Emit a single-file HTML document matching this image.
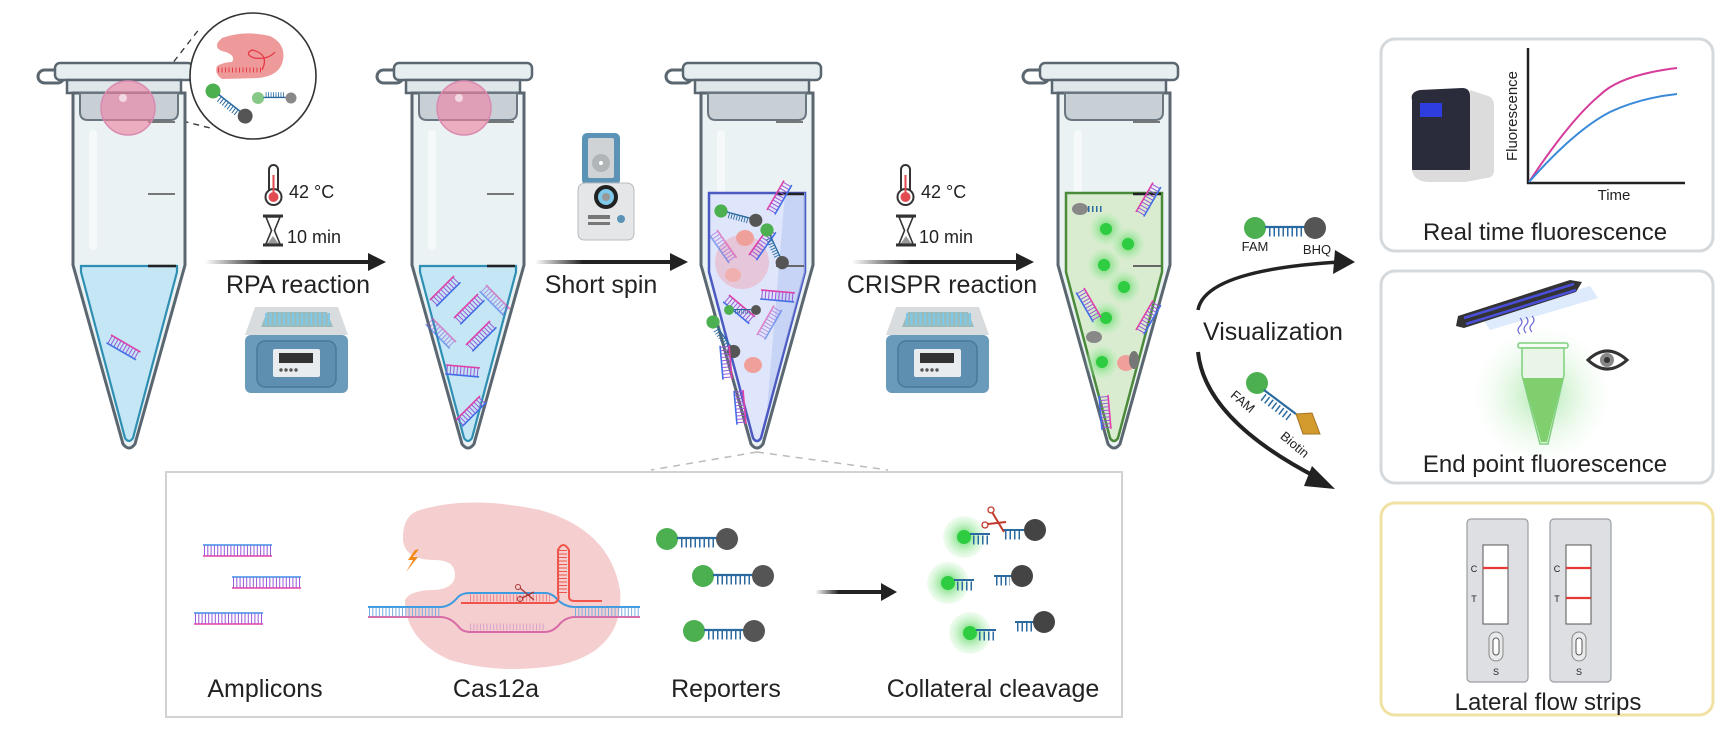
<!DOCTYPE html>
<html><head><meta charset="utf-8"><style>
html,body{margin:0;padding:0;background:#fff;}
svg{display:block;}
text{font-family:"Liberation Sans",sans-serif;fill:#222;}
</style></head><body>
<svg width="1731" height="741" viewBox="0 0 1731 741" xmlns="http://www.w3.org/2000/svg">
<defs>
  <g id="lad">
    <line x1="0" y1="0" x2="34" y2="0" stroke="#e040a8" stroke-width="1.6"/>
    <line x1="0" y1="9" x2="34" y2="9" stroke="#3f6fe8" stroke-width="1.6"/>
    <line x1="1" y1="4.5" x2="34" y2="4.5" stroke="#9a58d8" stroke-width="8" stroke-dasharray="1 2.4"/>
  </g>
  <g id="rep">
    <circle cx="0" cy="0" r="11" fill="#4caf50"/>
    <line x1="10" y1="-1" x2="50" y2="-1" stroke="#2a6aa0" stroke-width="2.2"/>
    <line x1="14" y1="4" x2="48" y2="4" stroke="#2a6aa0" stroke-width="9" stroke-dasharray="1.5 3"/>
    <circle cx="60" cy="0" r="11" fill="#555"/>
  </g>
  <g id="tube">
    <rect x="-91" y="70" width="26" height="13" rx="6.5" fill="none" stroke="#5b6770" stroke-width="3"/>
    <rect x="-74" y="63" width="138" height="17" rx="5" fill="#e6eef0" stroke="#5b6770" stroke-width="2.5"/>
    <rect x="-62" y="80" width="114" height="13" fill="#dfe7ea" stroke="#5b6770" stroke-width="2.5"/>
    <path d="M-56 93 L-56 265 L-6 444 Q0 452 6 444 L56 265 L56 93 Z" fill="#eaf2f3" stroke="#5b6770" stroke-width="3"/>
    <path d="M-49 93 L-49 112 Q-49 120 -41 120 L41 120 Q49 120 49 112 L49 93 Z" fill="#c8d0d6" stroke="#6b7780" stroke-width="2"/>
    <rect x="-40" y="130" width="8" height="120" rx="4" fill="#fff" opacity="0.5"/>
    <line x1="19" y1="122" x2="46" y2="122" stroke="#777" stroke-width="2"/>
    <line x1="19" y1="194" x2="46" y2="194" stroke="#777" stroke-width="2"/>
  </g>
  <g id="heater">
    <path d="M10 0 L93 0 L103 28 L0 28 Z" fill="#d8dcde"/>
    <path d="M22 5 L82 5 L88 20 L16 20 Z" fill="#9bb"/>
    <line x1="20" y1="12" x2="86" y2="12" stroke="#7ec8ea" stroke-width="12" stroke-dasharray="2 2.5"/>
    <rect x="0" y="28" width="103" height="58" rx="6" fill="#6b9bbb"/>
    <rect x="12" y="34" width="79" height="46" rx="8" fill="#5f8fb0" stroke="#4b7899" stroke-width="1.5"/>
    <rect x="28" y="42" width="47" height="28" rx="2" fill="#e9ecee"/>
    <rect x="34" y="46" width="34" height="10" fill="#333"/>
    <circle cx="36" cy="63" r="1.7" fill="#555"/><circle cx="41" cy="63" r="1.7" fill="#555"/><circle cx="46" cy="63" r="1.7" fill="#555"/><circle cx="51" cy="63" r="1.7" fill="#555"/>
  </g>
  <g id="therm">
    <rect x="-4" y="0" width="9" height="30" rx="4.5" fill="#fff" stroke="#333" stroke-width="2"/>
    <circle cx="0.5" cy="32" r="8" fill="#fff" stroke="#333" stroke-width="2"/>
    <circle cx="0.5" cy="32" r="5" fill="#e24a52"/>
    <line x1="0.5" y1="10" x2="0.5" y2="30" stroke="#e24a52" stroke-width="2"/>
  </g>
  <g id="hour">
    <line x1="-10" y1="0" x2="10" y2="0" stroke="#333" stroke-width="3"/>
    <line x1="-10" y1="29" x2="10" y2="29" stroke="#333" stroke-width="3"/>
    <path d="M-7 1 L7 1 L1.5 14.5 L7 28 L-7 28 L-1.5 14.5 Z" fill="#fff" stroke="#333" stroke-width="1.6"/>
    <path d="M-5 27 L5 27 L0 20 Z" fill="#999"/>
  </g>
  <linearGradient id="ag" x1="0" x2="1" y1="0" y2="0"><stop offset="0" stop-color="#222" stop-opacity="0"/><stop offset="0.35" stop-color="#222"/></linearGradient>
  <radialGradient id="glow"><stop offset="0" stop-color="#3dd34a" stop-opacity="0.9"/><stop offset="0.5" stop-color="#7be07f" stop-opacity="0.55"/><stop offset="1" stop-color="#b5f0b5" stop-opacity="0.2"/></radialGradient>
  <radialGradient id="bigglow"><stop offset="0" stop-color="#6cd66c" stop-opacity="0.55"/><stop offset="1" stop-color="#d9f5d9" stop-opacity="0"/></radialGradient>
</defs>

<!-- dashed lines zoom -->
<line x1="140" y1="105" x2="200" y2="28" stroke="#333" stroke-width="1.3" stroke-dasharray="6 5"/>
<line x1="140" y1="110" x2="210" y2="128" stroke="#333" stroke-width="1.3" stroke-dasharray="6 5"/>

<!-- TUBE 1 -->
<g transform="translate(129,0)">
  <use href="#tube"/>
  <path d="M-48 266 L48 266 L48 272 L4 438 Q0 444 -4 438 L-48 272 Z" fill="#c4e6f5" stroke="#2e8fb3" stroke-width="2.2"/>
  <line x1="19" y1="266" x2="47" y2="266" stroke="#222" stroke-width="2.5"/>
  <use href="#lad" transform="translate(-18,335) rotate(30)"/>
  <circle cx="-1" cy="108" r="27" fill="#ee7fa0" fill-opacity="0.6" stroke="#d98ab0" stroke-width="1.5"/>
  <circle cx="-6" cy="98" r="4" fill="#fff" opacity="0.6"/>
</g>
<!-- magnifier -->
<circle cx="253" cy="76" r="63" fill="#fff" stroke="#333" stroke-width="1.6"/>
<path d="M222 38 Q245 30 270 36 Q286 44 283 60 Q280 76 258 78 L222 79 Q214 74 217 66 Q224 62 232 62 Q236 56 226 52 Q214 50 218 42 Z" fill="#ef9a9a"/>
<line x1="218" y1="70" x2="263" y2="70" stroke="#e53945" stroke-width="5" stroke-dasharray="1 2.5"/>
<path d="M262 70 Q270 54 252 50 Q244 54 254 58 Q268 60 275 52" fill="none" stroke="#e53945" stroke-width="1.3"/>
<g transform="translate(213,91) rotate(38)"><use href="#rep" transform="scale(0.68)"/></g>
<g transform="translate(258,98) scale(0.55)"><circle r="11" fill="#86c886"/><line x1="10" y1="-1" x2="50" y2="-1" stroke="#2a6aa0" stroke-width="2.5"/><line x1="14" y1="-6" x2="48" y2="-6" stroke="#2a6aa0" stroke-width="9" stroke-dasharray="1.5 3"/><circle cx="60" r="10" fill="#888"/></g>

<!-- step 1 -->
<use href="#therm" transform="translate(273,165)"/>
<text x="289" y="198" font-size="18">42 °C</text>
<use href="#hour" transform="translate(273,216)"/>
<text x="287" y="243" font-size="18">10 min</text>
<rect x="205" y="260" width="167" height="4" fill="url(#ag)"/>
<path d="M368 253 L386 262 L368 271 Z" fill="#222"/>
<text x="298" y="293" font-size="25" text-anchor="middle">RPA reaction</text>
<use href="#heater" transform="translate(245,307)"/>

<!-- TUBE 2 -->
<g transform="translate(468,0)">
  <use href="#tube"/>
  <path d="M-48 266 L48 266 L48 272 L4 438 Q0 444 -4 438 L-48 272 Z" fill="#c4e6f5" stroke="#2e8fb3" stroke-width="2.2"/>
  <line x1="19" y1="266" x2="47" y2="266" stroke="#222" stroke-width="2.5"/>
  <use href="#lad" transform="translate(-38,300) rotate(-45)"/>
  <use href="#lad" transform="translate(-14,318) rotate(-45)"/>
  <use href="#lad" transform="translate(18,285) rotate(45)" opacity="0.6"/>
  <use href="#lad" transform="translate(-36,318) rotate(45)" opacity="0.6"/>
  <use href="#lad" transform="translate(-2,345) rotate(-45)"/>
  <use href="#lad" transform="translate(-22,365) rotate(5)"/>
  <use href="#lad" transform="translate(-12,420) rotate(-45)"/>
  <circle cx="-4" cy="108" r="27" fill="#ee7fa0" fill-opacity="0.6" stroke="#d98ab0" stroke-width="1.5"/>
  <circle cx="-9" cy="98" r="4" fill="#fff" opacity="0.6"/>
</g>

<!-- centrifuge -->
<g transform="translate(578,133)">
  <rect x="4" y="0" width="38" height="52" rx="5" fill="#5b93b6"/>
  <rect x="10" y="5" width="26" height="40" rx="2" fill="#cfd3d6"/>
  <circle cx="23" cy="30" r="9" fill="#b0b5b8"/><circle cx="23" cy="30" r="2" fill="#fff"/>
  <path d="M0 58 Q0 50 8 50 L48 50 Q56 50 56 58 L56 100 Q56 107 49 107 L7 107 Q0 107 0 100 Z" fill="#e4e6e8" stroke="#b9bdc0"/>
  <circle cx="28" cy="64" r="12" fill="#222"/><circle cx="28" cy="64" r="8" fill="#7ec8ea"/><circle cx="28" cy="64" r="4" fill="#999"/>
  <rect x="10" y="82" width="22" height="4" fill="#777"/><rect x="10" y="89" width="22" height="3" fill="#777"/>
  <circle cx="43" cy="86" r="4" fill="#5b93b6"/>
</g>
<rect x="535" y="260" width="137" height="4" fill="url(#ag)"/>
<path d="M670 253 L688 262 L670 271 Z" fill="#222"/>
<text x="601" y="293" font-size="25" text-anchor="middle">Short spin</text>

<!-- TUBE 3 -->
<g transform="translate(757,0)">
  <use href="#tube"/>
  <path d="M-48 193 L48 193 L48 272 L4 438 Q0 444 -4 438 L-48 272 Z" fill="#dfe6fb" stroke="#4b59c2" stroke-width="2.5"/>
  <path d="M28 193 L48 193 L48 272 L10 410 Z" fill="#b8c8f2" opacity="0.6"/>
  <line x1="19" y1="194" x2="47" y2="194" stroke="#222" stroke-width="2.5"/>
  <line x1="19" y1="266" x2="47" y2="266" stroke="#666" stroke-width="2"/>
  <circle cx="-15" cy="262" r="27" fill="#efa0b0" fill-opacity="0.45"/>
  <use href="#rep" transform="translate(-36,211) rotate(15) scale(0.6)"/>
  <use href="#lad" transform="translate(10,210) rotate(-60)"/>
  <use href="#lad" transform="translate(-40,230) rotate(55)" opacity="0.6"/>
  <use href="#lad" transform="translate(-8,255) rotate(-55)"/>
  <use href="#lad" transform="translate(-28,295) rotate(40)"/>
  <use href="#lad" transform="translate(4,290) rotate(5)"/>
  <use href="#rep" transform="translate(-28,310) scale(0.45)"/>
  <use href="#lad" transform="translate(0,335) rotate(-60)" opacity="0.6"/>
  <use href="#rep" transform="translate(-44,322) rotate(55) scale(0.6)"/>
  <use href="#lad" transform="translate(-28,345) rotate(85)"/>
  <use href="#lad" transform="translate(-14,390) rotate(85)"/>
  <use href="#rep" transform="translate(10,230) rotate(65) scale(0.6)"/>
  <ellipse cx="-12" cy="238" rx="9" ry="8" fill="#f0a09a"/>
  <ellipse cx="-4" cy="365" rx="9" ry="8" fill="#f0a09a"/>
  <ellipse cx="-24" cy="275" rx="8" ry="7" fill="#f0b0b0"/>
</g>
<line x1="757" y1="452" x2="651" y2="470" stroke="#bbb" stroke-width="1.5" stroke-dasharray="7 6"/>
<line x1="757" y1="452" x2="888" y2="470" stroke="#bbb" stroke-width="1.5" stroke-dasharray="7 6"/>

<!-- step CRISPR -->
<use href="#therm" transform="translate(905,165)"/>
<text x="921" y="198" font-size="18">42 °C</text>
<use href="#hour" transform="translate(906,216)"/>
<text x="919" y="243" font-size="18">10 min</text>
<rect x="852" y="260" width="168" height="4" fill="url(#ag)"/>
<path d="M1016 253 L1034 262 L1016 271 Z" fill="#222"/>
<text x="942" y="293" font-size="25" text-anchor="middle">CRISPR reaction</text>
<use href="#heater" transform="translate(886,307)"/>

<!-- TUBE 4 -->
<g transform="translate(1114,0)">
  <use href="#tube"/>
  <path d="M-48 193 L48 193 L48 272 L4 438 Q0 444 -4 438 L-48 272 Z" fill="#d9ecd0" stroke="#4a8a3a" stroke-width="2.5"/>
  <line x1="19" y1="194" x2="47" y2="194" stroke="#222" stroke-width="2.5"/>
  <line x1="19" y1="266" x2="47" y2="266" stroke="#666" stroke-width="2"/>
  <circle cx="-8" cy="229" r="16" fill="url(#glow)"/><circle cx="-8" cy="229" r="6" fill="#2ecc40"/>
  <circle cx="14" cy="244" r="16" fill="url(#glow)"/><circle cx="14" cy="244" r="6" fill="#2ecc40"/>
  <circle cx="-10" cy="265" r="16" fill="url(#glow)"/><circle cx="-10" cy="265" r="6" fill="#2ecc40"/>
  <circle cx="10" cy="287" r="16" fill="url(#glow)"/><circle cx="10" cy="287" r="6" fill="#2ecc40"/>
  <circle cx="-8" cy="318" r="16" fill="url(#glow)"/><circle cx="-8" cy="318" r="6" fill="#2ecc40"/>
  <circle cx="-12" cy="362" r="16" fill="url(#glow)"/><circle cx="-12" cy="362" r="6" fill="#2ecc40"/>
  <ellipse cx="-34" cy="209" rx="8" ry="6" fill="#888"/>
  <line x1="-26" y1="209" x2="-12" y2="209" stroke="#2a6aa0" stroke-width="6" stroke-dasharray="1.5 2.5"/>
  <use href="#lad" transform="translate(22,212) rotate(-60)"/>
  <use href="#lad" transform="translate(-30,288) rotate(60)"/>
  <use href="#lad" transform="translate(22,330) rotate(-60)"/>
  <ellipse cx="-20" cy="337" rx="8" ry="6" fill="#888"/>
  <ellipse cx="12" cy="363" rx="9" ry="8" fill="#f0a09a"/>
  <ellipse cx="20" cy="360" rx="5" ry="9" fill="#777"/>
  <use href="#lad" transform="translate(-6,395) rotate(85)"/>
</g>

<!-- Visualization -->
<path d="M1198 310 Q1205 270 1340 262" fill="none" stroke="#222" stroke-width="3.5"/>
<path d="M1335 250 L1355 262 L1333 274 Z" fill="#222"/>
<path d="M1198 352 Q1205 420 1318 478" fill="none" stroke="#222" stroke-width="4"/>
<path d="M1312 466 L1335 489 L1304 486 Z" fill="#222"/>
<text x="1203" y="340" font-size="25">Visualization</text>
<use href="#rep" transform="translate(1255,228)"/>
<text x="1255" y="251" font-size="13" text-anchor="middle">FAM</text>
<text x="1317" y="254" font-size="13" text-anchor="middle">BHQ</text>
<circle cx="1257" cy="383" r="11" fill="#4caf50"/>
<line x1="1264" y1="390" x2="1296" y2="414" stroke="#2a6aa0" stroke-width="2.2"/>
<line x1="1263" y1="397" x2="1290" y2="418" stroke="#2a6aa0" stroke-width="8" stroke-dasharray="1.5 3"/>
<path d="M1296 414 L1312 413 L1320 434 L1303 434 Z" fill="#d39a2e" stroke="#a57420"/>
<text x="1240" y="405" font-size="13" transform="rotate(40 1240 405)" text-anchor="middle">FAM</text>
<text x="1292" y="448" font-size="13" transform="rotate(40 1292 448)" text-anchor="middle">Biotin</text>

<!-- Right box 1 -->
<rect x="1381" y="39" width="332" height="212" rx="14" fill="#fff" stroke="#d5d9dc" stroke-width="3"/>
<path d="M1412 100 Q1410 92 1420 90 L1462 88 Q1470 88 1470 96 L1470 168 Q1470 176 1462 176 L1420 176 Q1412 176 1412 168 Z" fill="#2a2b3b"/>
<path d="M1470 90 L1488 96 Q1494 98 1494 106 L1494 170 Q1494 178 1486 178 L1466 182 L1430 182 Q1414 182 1412 170 L1470 170 Z" fill="#dcdcdc"/>
<rect x="1420" y="103" width="22" height="14" fill="#2d3de0"/>
<line x1="1528" y1="48" x2="1528" y2="184" stroke="#222" stroke-width="2.5"/>
<line x1="1527" y1="183" x2="1685" y2="183" stroke="#222" stroke-width="2.5"/>
<path d="M1529 182 Q1570 120 1600 95 Q1620 75 1677 68" fill="none" stroke="#d63c9a" stroke-width="2"/>
<path d="M1529 182 Q1575 130 1610 112 Q1640 98 1677 94" fill="none" stroke="#3a8ad8" stroke-width="2"/>
<text x="1517" y="116" font-size="15" transform="rotate(-90 1517 116)" text-anchor="middle">Fluorescence</text>
<text x="1614" y="200" font-size="15" text-anchor="middle">Time</text>
<text x="1545" y="240" font-size="24" text-anchor="middle">Real time fluorescence</text>

<!-- Right box 2 -->
<rect x="1381" y="271" width="332" height="212" rx="14" fill="#fff" stroke="#d5d9dc" stroke-width="3"/>
<circle cx="1542" cy="395" r="70" fill="url(#bigglow)"/>
<path d="M1482 318 L1590 286 L1598 298 L1490 330 Z" fill="#d4e6fb" opacity="0.8"/>
<path d="M1458 316 L1570 280 L1582 282 L1576 292 L1464 328 L1456 326 Z" fill="#333"/>
<line x1="1464" y1="318" x2="1574" y2="284" stroke="#4b4fd8" stroke-width="2.5"/>
<line x1="1466" y1="324" x2="1576" y2="290" stroke="#4b4fd8" stroke-width="2.5"/>
<path d="M1520 318 q4 4 0 8 q-4 4 0 8 M1526 317 q4 4 0 8 q-4 4 0 8 M1532 316 q4 4 0 8 q-4 4 0 8" fill="none" stroke="#6a6ad8" stroke-width="1.2"/>
<rect x="1518" y="343" width="50" height="5" rx="2" fill="none" stroke="#7fd07f" stroke-width="1.5"/>
<path d="M1522 348 L1522 375 L1540 444 L1548 444 L1564 375 L1564 348 Z" fill="#e9f5e6" stroke="#7fd07f" stroke-width="1.5"/>
<path d="M1523 378 L1563 378 L1547 442 L1541 442 Z" fill="#7fcf6f"/>
<path d="M1588 360 Q1607 342 1627 360 Q1607 378 1588 360 Z" fill="#fff" stroke="#333" stroke-width="3"/>
<circle cx="1607" cy="360" r="7" fill="#888"/><circle cx="1607" cy="360" r="3" fill="#333"/>
<text x="1545" y="472" font-size="24" text-anchor="middle">End point fluorescence</text>

<!-- Right box 3 -->
<rect x="1381" y="503" width="332" height="212" rx="14" fill="#fff" stroke="#f1e2a4" stroke-width="3"/>
<g>
  <rect x="1467" y="519" width="61" height="163" rx="4" fill="#dedfe2" stroke="#9a9ea2" stroke-width="1.2"/>
  <rect x="1483" y="545" width="25" height="79" fill="#fff" stroke="#555" stroke-width="1"/>
  <line x1="1483" y1="568" x2="1508" y2="568" stroke="#e53935" stroke-width="2.2"/>
  <text x="1474" y="572" font-size="9" text-anchor="middle">C</text>
  <text x="1474" y="602" font-size="9" text-anchor="middle">T</text>
  <rect x="1489" y="632" width="14" height="29" rx="7" fill="#e8e9ea" stroke="#888"/>
  <rect x="1493" y="638" width="6" height="17" rx="3" fill="#fff" stroke="#555"/>
  <text x="1496" y="675" font-size="9" text-anchor="middle">S</text>
</g>
<g transform="translate(83,0)">
  <rect x="1467" y="519" width="61" height="163" rx="4" fill="#dedfe2" stroke="#9a9ea2" stroke-width="1.2"/>
  <rect x="1483" y="545" width="25" height="79" fill="#fff" stroke="#555" stroke-width="1"/>
  <line x1="1483" y1="568" x2="1508" y2="568" stroke="#e53935" stroke-width="2.2"/>
  <line x1="1483" y1="598" x2="1508" y2="598" stroke="#e53935" stroke-width="2.2"/>
  <text x="1474" y="572" font-size="9" text-anchor="middle">C</text>
  <text x="1474" y="602" font-size="9" text-anchor="middle">T</text>
  <rect x="1489" y="632" width="14" height="29" rx="7" fill="#e8e9ea" stroke="#888"/>
  <rect x="1493" y="638" width="6" height="17" rx="3" fill="#fff" stroke="#555"/>
  <text x="1496" y="675" font-size="9" text-anchor="middle">S</text>
</g>
<text x="1548" y="710" font-size="24" text-anchor="middle">Lateral flow strips</text>

<!-- Bottom box -->
<rect x="166" y="472" width="956" height="245" fill="#fff" stroke="#d0d3d6" stroke-width="2"/>
<g>
  <line x1="203" y1="545" x2="272" y2="545" stroke="#3f8fe8" stroke-width="1.6"/>
  <line x1="203" y1="556" x2="272" y2="556" stroke="#e040a8" stroke-width="1.6"/>
  <line x1="204" y1="550.5" x2="272" y2="550.5" stroke="#9a58d8" stroke-width="10" stroke-dasharray="1 2.3"/>
  <line x1="232" y1="577" x2="301" y2="577" stroke="#3f8fe8" stroke-width="1.6"/>
  <line x1="232" y1="588" x2="301" y2="588" stroke="#e040a8" stroke-width="1.6"/>
  <line x1="233" y1="582.5" x2="301" y2="582.5" stroke="#9a58d8" stroke-width="10" stroke-dasharray="1 2.3"/>
  <line x1="194" y1="613" x2="263" y2="613" stroke="#3f8fe8" stroke-width="1.6"/>
  <line x1="194" y1="624" x2="263" y2="624" stroke="#e040a8" stroke-width="1.6"/>
  <line x1="195" y1="618.5" x2="263" y2="618.5" stroke="#9a58d8" stroke-width="10" stroke-dasharray="1 2.3"/>
</g>
<text x="265" y="697" font-size="25" text-anchor="middle">Amplicons</text>
<!-- Cas12a -->
<path d="M420 510 Q470 495 540 510 Q610 530 620 590 Q625 650 560 665 Q500 675 450 660 Q405 640 405 600 Q410 590 435 590 Q455 588 455 575 Q455 560 435 560 Q405 560 403 540 Q402 515 420 510 Z" fill="#f5cfcf"/>
<path d="M415 550 L408 560 L413 560 L406 572 L418 557 L413 557 L419 549 Z" fill="#f08a1c"/>
<path d="M368 607 L440 607 Q450 607 458 597 Q462 593 470 593 L545 593 Q552 593 558 600 Q565 607 575 607 L640 607" fill="none" stroke="#3f9be0" stroke-width="2"/>
<path d="M368 617 L440 617 Q450 617 458 626 Q462 632 470 632 L545 632 Q552 632 558 626 Q565 617 575 617 L640 617" fill="none" stroke="#d86aa8" stroke-width="2"/>
<line x1="369" y1="612" x2="440" y2="612" stroke="#7aaee0" stroke-width="9" stroke-dasharray="1 2.3"/>
<line x1="575" y1="612" x2="640" y2="612" stroke="#7aaee0" stroke-width="9" stroke-dasharray="1 2.3"/>
<line x1="470" y1="627" x2="545" y2="627" stroke="#d9a0c8" stroke-width="7" stroke-dasharray="1 2.3"/>
<line x1="461" y1="603" x2="554" y2="603" stroke="#f0534a" stroke-width="2"/>
<line x1="470" y1="598" x2="550" y2="598" stroke="#f08080" stroke-width="7" stroke-dasharray="1 2.3"/>
<path d="M554 603 Q560 601 558 594 L558 550 Q563 540 569 550 L569 597 Q569 601 575 601 L602 601" fill="none" stroke="#f0534a" stroke-width="2"/>
<line x1="563" y1="550" x2="563" y2="594" stroke="#f0534a" stroke-width="8" stroke-dasharray="1 2.5"/>
<path d="M520 588 L534 600 M522 598 L534 592" stroke="#a33" stroke-width="1.3"/>
<circle cx="518" cy="587" r="2.5" fill="none" stroke="#a33"/><circle cx="520" cy="599" r="2.5" fill="none" stroke="#a33"/>
<text x="496" y="697" font-size="25" text-anchor="middle">Cas12a</text>
<!-- Reporters -->
<use href="#rep" transform="translate(667,539)"/>
<use href="#rep" transform="translate(703,576)"/>
<use href="#rep" transform="translate(694,631)"/>
<text x="726" y="697" font-size="25" text-anchor="middle">Reporters</text>
<rect x="815" y="590" width="69" height="4" fill="url(#ag)"/>
<path d="M881 583 L897 592 L881 601 Z" fill="#222"/>
<!-- Collateral -->
<circle cx="964" cy="537" r="21" fill="url(#glow)"/><circle cx="964" cy="537" r="7" fill="#2ecc40"/>
<line x1="970" y1="534" x2="990" y2="534" stroke="#2a6aa0" stroke-width="2"/><line x1="973" y1="540" x2="988" y2="540" stroke="#2a6aa0" stroke-width="9" stroke-dasharray="1.5 3"/>
<circle cx="948" cy="583" r="21" fill="url(#glow)"/><circle cx="948" cy="583" r="7" fill="#2ecc40"/>
<line x1="954" y1="580" x2="974" y2="580" stroke="#2a6aa0" stroke-width="2"/><line x1="957" y1="586" x2="972" y2="586" stroke="#2a6aa0" stroke-width="9" stroke-dasharray="1.5 3"/>
<circle cx="970" cy="633" r="21" fill="url(#glow)"/><circle cx="970" cy="633" r="7" fill="#2ecc40"/>
<line x1="976" y1="630" x2="996" y2="630" stroke="#2a6aa0" stroke-width="2"/><line x1="979" y1="636" x2="994" y2="636" stroke="#2a6aa0" stroke-width="9" stroke-dasharray="1.5 3"/>
<line x1="1003" y1="530" x2="1024" y2="530" stroke="#2a6aa0" stroke-width="2"/><line x1="1005" y1="535" x2="1020" y2="535" stroke="#2a6aa0" stroke-width="9" stroke-dasharray="1.5 3"/><circle cx="1035" cy="530" r="11" fill="#444"/>
<line x1="994" y1="576" x2="1012" y2="576" stroke="#2a6aa0" stroke-width="2"/><line x1="996" y1="581" x2="1010" y2="581" stroke="#2a6aa0" stroke-width="9" stroke-dasharray="1.5 3"/><circle cx="1022" cy="576" r="11" fill="#444"/>
<line x1="1015" y1="622" x2="1034" y2="622" stroke="#2a6aa0" stroke-width="2"/><line x1="1017" y1="627" x2="1032" y2="627" stroke="#2a6aa0" stroke-width="9" stroke-dasharray="1.5 3"/><circle cx="1044" cy="622" r="11" fill="#444"/>
<path d="M992 512 L1004 532 M988 524 L1006 522" stroke="#c0392b" stroke-width="2"/>
<circle cx="991" cy="510" r="3" fill="none" stroke="#c0392b" stroke-width="1.3"/><circle cx="985" cy="525" r="3" fill="none" stroke="#c0392b" stroke-width="1.3"/>
<text x="993" y="697" font-size="25" text-anchor="middle">Collateral cleavage</text>
</svg>
</body></html>
